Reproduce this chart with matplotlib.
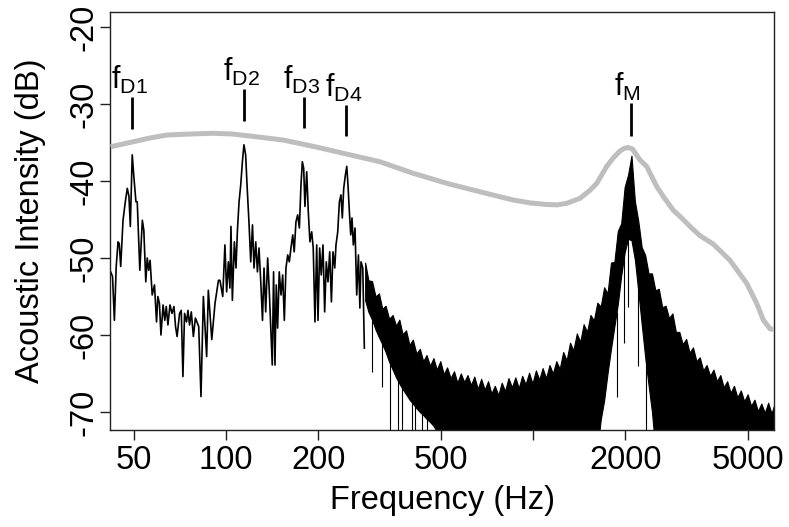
import matplotlib
matplotlib.use("Agg")
import matplotlib.pyplot as plt
from matplotlib.ticker import FixedLocator, FixedFormatter, NullLocator

plt.rcParams['font.family'] = ['Liberation Sans', 'DejaVu Sans']
plt.rcParams['mathtext.default'] = 'regular'

# ---------------- data ----------------
# low-frequency part of the spectrum (Hz, dB)
lf_freq = [42.1, 42.7, 43.3, 43.9, 44.5, 44.9, 45.4, 46.2, 47.0, 47.7,
           48.3, 48.8, 49.5, 50.1, 50.9, 51.4, 52.4, 53.4, 54.0, 54.8,
           55.4, 56.0, 56.6, 57.5, 58.5, 59.4, 60.0, 60.7, 61.4, 62.4,
           63.2, 63.9, 64.7, 65.7, 66.7, 67.7, 68.5, 69.3, 70.6, 71.5,
           72.4, 73.3, 74.4, 75.2, 76.1, 77.1, 78.3, 79.5, 80.4, 81.5,
           82.9, 84.4, 86.5, 87.6, 89.9, 92.1, 94.5, 95.6, 97.6, 99.2,
           100.5, 101.8, 103.0, 103.8, 104.9, 106.5, 107.8, 108.9, 110.3, 111.7,
           113.1, 114.4, 115.9, 117.1, 118.8, 120.4, 122.0, 123.4, 125.0, 126.6,
           128.1, 129.8, 131.5, 133.0, 134.7, 136.7, 138.4, 140.2, 141.5, 142.9,
           144.4, 145.8, 147.3, 149.1, 151.1, 153.0, 154.9, 156.8, 158.9, 160.8,
           162.8, 165.0, 166.8, 169.0, 171.2, 173.4, 175.5, 177.3, 179.1, 180.8,
           183.2, 185.4, 187.7, 190.2, 192.4, 194.9, 197.5, 199.4, 201.9, 204.3,
           207.0, 209.6, 212.2, 214.9, 217.7, 220.5, 223.1, 226.1, 228.2, 231.2,
           234.1, 236.9, 239.3, 241.8, 244.9, 247.4, 249.7, 252.3, 254.9, 257.3,
           259.9, 263.2, 266.6, 270.0, 273.0, 275.3, 279.0, 282.3]
lf_db = [-51.8, -52.4, -58.1, -51.1, -47.9, -48.1, -51.1, -45.1, -42.7, -40.95,
         -42.0, -45.9, -36.6, -39.4, -42.7, -42.7, -51.6, -45.1, -46.4, -53.1,
         -50.0, -51.6, -50.3, -54.8, -53.5, -58.3, -55.0, -55.9, -60.0, -56.1,
         -58.1, -56.3, -58.7, -56.1, -57.2, -56.3, -58.9, -60.2, -57.2, -56.8,
         -65.4, -57.2, -58.3, -56.8, -58.7, -57.0, -60.2, -57.8, -58.3, -58.9,
         -68.0, -55.0, -62.8, -54.2, -60.6, -55.9, -52.9, -52.9, -55.0, -48.3,
         -54.4, -50.5, -53.9, -45.9, -55.5, -47.9, -51.3, -46.6, -42.7, -40.5,
         -37.5, -35.3, -36.6, -40.5, -45.3, -50.5, -45.7, -51.3, -47.9, -51.8,
         -48.7, -53.1, -58.1, -51.3, -57.0, -50.0, -54.4, -60.0, -63.9, -51.8,
         -63.9, -53.5, -59.1, -51.8, -54.8, -52.2, -58.1, -51.3, -49.6, -50.5,
         -48.7, -47.0, -49.2, -45.3, -44.4, -46.1, -40.5, -37.5, -38.35, -43.3,
         -38.8, -44.0, -47.9, -46.6, -48.7, -58.3, -48.3, -58.1, -48.7, -52.2,
         -48.3, -57.0, -50.5, -53.1, -49.2, -55.7, -49.2, -51.3, -48.3, -46.6,
         -42.7, -41.8, -44.8, -40.95, -39.2, -38.1, -40.5, -44.0, -47.0, -44.8,
         -48.3, -46.1, -54.8, -49.6, -56.5, -50.5, -51.3, -61.7]

# dense high-frequency part: upper (jagged) and lower edge of the black band
hf_freq = [284, 291, 299, 307, 315, 323, 331, 340, 349, 358,
           367, 376, 386, 396, 406, 417, 428, 439, 450, 462,
           474, 486, 499, 512, 525, 539, 553, 567, 582, 597,
           612, 628, 644, 661, 678, 696, 714, 732, 751, 771,
           791, 811, 832, 854, 876, 899, 922, 946, 971, 996,
           1022, 1048, 1075, 1103, 1132, 1161, 1191, 1222, 1254, 1287,
           1320, 1354, 1389, 1425, 1462, 1500, 1539, 1579, 1620, 1662,
           1705, 1749, 1795, 1841, 1889, 1938, 1988, 2040, 2093, 2147,
           2203, 2260, 2319, 2379, 2441, 2504, 2569, 2636, 2704, 2774,
           2846, 2920, 2996, 3074, 3154, 3236, 3320, 3406, 3494, 3585,
           3678, 3774, 3872, 3972, 4075, 4181, 4290, 4401, 4515, 4632,
           4752, 4876, 5003, 5133, 5266, 5403, 5543, 5687, 5835, 5986,
           6100]
hf_upper = [-50.6, -52.9, -53.0, -55.0, -54.6, -56.6, -56.2, -57.9, -57.4, -58.8,
            -58.0, -59.9, -59.4, -61.3, -60.6, -62.4, -61.8, -63.4, -62.6, -64.0,
            -63.0, -64.5, -63.4, -65.1, -64.2, -65.6, -64.7, -66.2, -65.0, -66.1,
            -65.2, -66.5, -65.4, -67.0, -65.7, -67.1, -66.0, -67.6, -66.6, -67.8,
            -66.2, -67.3, -65.6, -66.8, -65.5, -66.9, -65.3, -66.4, -64.9, -66.3,
            -64.6, -65.8, -64.3, -65.6, -63.9, -65.0, -63.4, -64.4, -62.2, -63.3,
            -61.0, -62.0, -59.8, -60.9, -58.6, -59.6, -57.4, -58.1, -55.8, -56.3,
            -53.8, -54.6, -50.6, -50.5, -46.5, -45.5, -40.8, -39.2, -36.7, -42.6,
            -45.2, -48.6, -49.6, -52.0, -52.0, -54.2, -54.0, -56.4, -56.2, -57.8,
            -57.2, -59.6, -59.6, -61.2, -60.5, -62.3, -61.6, -63.4, -62.9, -64.6,
            -63.9, -65.3, -64.5, -66.0, -65.2, -66.8, -66.0, -67.5, -66.6, -68.1,
            -67.2, -68.6, -67.7, -69.2, -68.4, -69.9, -68.9, -70.1, -68.8, -70.2,
            -69.1]
hf_lower = [-55.5, -57.0, -58.0, -59.3, -60.3, -61.2, -62.2, -63.5, -64.5, -65.5,
            -66.3, -67.0, -67.7, -68.4, -68.9, -69.5, -70.0, -70.4, -70.9, -71.3,
            -71.8, -72.5, -75, -75, -75, -75, -75, -75, -75, -75,
            -75, -75, -75, -75, -75, -75, -75, -75, -75, -75,
            -75, -75, -75, -75, -75, -75, -75, -75, -75, -75,
            -75, -75, -75, -75, -75, -75, -75, -75, -75, -75,
            -75, -75, -75, -75, -75, -75, -75, -75, -75, -71.0,
            -68.5, -65.0, -61.8, -58.9, -56.0, -52.3, -49.3, -47.5, -47.7, -50.2,
            -54.3, -58.6, -62.8, -66.5, -70.0, -75, -75, -75, -75, -75,
            -75, -75, -75, -75, -75, -75, -75, -75, -75, -75,
            -75, -75, -75, -75, -75, -75, -75, -75, -75, -75,
            -75, -75, -75, -75, -75, -75, -75, -75, -75, -75,
            -75]

# isolated downward spikes of the spectrum
spike_freq = [298.3, 321.5, 342.1, 364.1, 373.5, 402.5, 412.6, 434.9, 451.6,
              1873, 1980, 2039, 2190, 2330]
spike_top = [-57.5, -60.5, -63.0, -65.5, -66.5, -68.5, -69.0, -70.0, -70.5,
             -57.0, -49.5, -47.0, -53.0, -62.0]
spike_bottom = [-64.8, -66.7, -75, -75, -75, -75, -75, -75, -75,
                -68.0, -61.0, -56.4, -64.0, -75]

# smooth grey envelope
grey_freq = [42.1, 49.9, 56.0, 64.1, 76.0, 90.9, 105.0, 119.7, 153.7, 197.5,
             253.4, 317.4, 407.4, 523.5, 672.1, 862.7, 980, 1108, 1200, 1288,
             1423, 1534, 1613, 1739, 1826, 1920, 1985, 2044, 2110, 2231,
             2346, 2528, 2657, 2864, 3012, 3246, 3499, 3867, 4382, 4968,
             5355, 5627, 5916, 6064]
grey_db = [-35.55, -34.9, -34.45, -34.03, -33.9, -33.8, -33.9, -34.16, -34.68, -35.6,
           -36.6, -37.5, -39.0, -40.3, -41.4, -42.47, -42.85, -43.05, -43.1, -42.9,
           -42.25, -41.2, -40.3, -38.1, -37.0, -36.1, -35.75, -35.65, -35.85, -37.27,
           -38.1, -40.7, -42.0, -43.8, -44.6, -45.9, -47.1, -48.2, -50.3, -53.3,
           -55.9, -58.05, -59.2, -59.3]

# peak markers
peak_labels = ['D1', 'D2', 'D3', 'D4', 'M']
peak_freq = [49.5, 114.5, 179.5, 246, 2080]
marker_top = [-29.05, -28.05, -29.1, -30.1, -29.9]
marker_bottom = [-33.2, -32.2, -33.1, -34.2, -34.2]

xtick_vals = [50, 100, 200, 500, 1000, 2000, 5000]
xtick_labels = ['50', '100', '200', '500', '', '2000', '5000']
ytick_vals = [-70, -60, -50, -40, -30, -20]

assert len(lf_freq) == len(lf_db)
assert len(hf_freq) == len(hf_upper) == len(hf_lower)
assert len(grey_freq) == len(grey_db)

# ---------------- figure ----------------
fig = plt.figure(figsize=(7.89, 5.27), dpi=100)
ax = fig.add_axes([110 / 789, 97 / 527, 664 / 789, 418 / 527])

ax.fill_between(hf_freq, hf_lower, hf_upper, facecolor='black',
                edgecolor='black', linewidth=0.8)
ax.plot(lf_freq, lf_db, color='black', lw=1.2)
ax.vlines(spike_freq, spike_bottom, spike_top, color='black', lw=0.8)
ax.plot(grey_freq, grey_db, color='#bebebe', lw=3.6,
        solid_joinstyle='round', solid_capstyle='butt', zorder=3)

for lab, f, top, bot in zip(peak_labels, peak_freq, marker_top, marker_bottom):
    ax.plot([f, f], [bot, top], color='black', lw=2.0,
            solid_capstyle='butt', zorder=4)
    ax.annotate('$f_{%s}$' % lab, xy=(f, top), xytext=(-2, 0.5),
                textcoords='offset points', ha='center', va='bottom',
                fontsize=22, zorder=5)

ax.set_xscale('log')
ax.set_xlim(41.9, 6096)
ax.set_ylim(-72.34, -18.05)

ax.xaxis.set_major_locator(FixedLocator(xtick_vals))
ax.xaxis.set_major_formatter(FixedFormatter(xtick_labels))
ax.xaxis.set_minor_locator(NullLocator())
ax.set_yticks(ytick_vals)
ax.set_yticklabels([str(v) for v in ytick_vals], rotation=90, va='center')

ax.tick_params(axis='both', direction='out', length=7.5, width=1.0,
               color='#222222')
ax.tick_params(axis='x', labelsize=23.5, pad=3.6)
ax.tick_params(axis='y', labelsize=23.5, pad=0)

for s in ax.spines.values():
    s.set_linewidth(1.0)
    s.set_color('#222222')

ax.set_xlabel('Frequency (Hz)', fontsize=23.5)
ax.xaxis.set_label_coords(0.5, -0.1316)
ax.set_ylabel('Acoustic Intensity (dB)', fontsize=23.5)
ax.yaxis.set_label_coords(-0.0964, 0.5)

fig.savefig('out.png', dpi=100)
